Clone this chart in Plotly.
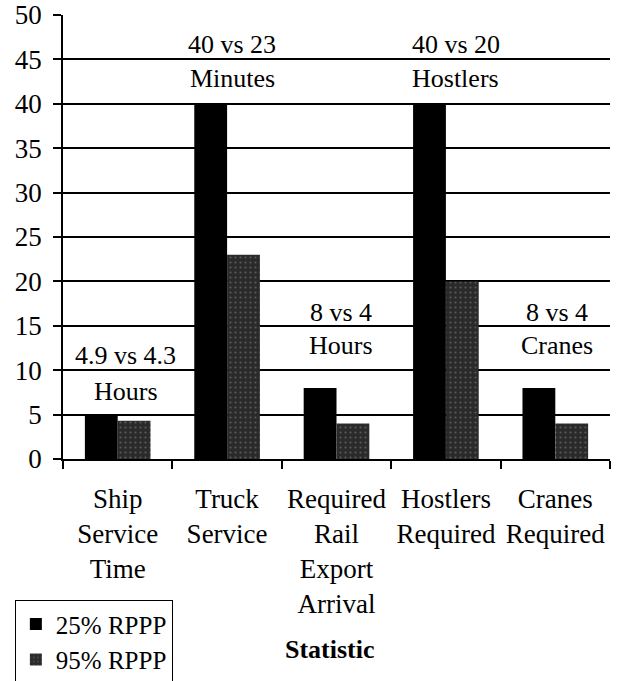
import plotly.graph_objects as go

categories = ["Ship<br>Service<br>Time", "Truck<br>Service", "Required<br>Rail<br>Export<br>Arrival",
              "Hostlers<br>Required", "Cranes<br>Required"]
rppp25 = [5, 40, 8, 40, 8]
rppp95 = [4.3, 23, 4, 20, 4]
ann_top = ["4.9 vs 4.3", "40 vs 23", "8 vs 4", "40 vs 20", "8 vs 4"]
ann_bottom = ["Hours", "Minutes", "Hours", "Hostlers", "Cranes"]
ann_top_y = [11.7, 46.7, 16.5, 46.7, 16.5]
ann_bottom_y = [7.6, 42.8, 12.8, 42.8, 12.8]
ann_xshift = [8, 5, 4, 10, 2]

FONT = "Liberation Serif"
FS = 26

fig = go.Figure()
fig.add_trace(go.Bar(x=categories, y=rppp25, name="25% RPPP",
                     marker=dict(color="#000000", line=dict(width=0))))
fig.add_trace(go.Bar(x=categories, y=rppp95, name="95% RPPP",
                     marker=dict(color="#2a2a2a", line=dict(width=0),
                                 pattern=dict(shape=".", fgcolor="#8a8a8a", size=5, solidity=0.15))))

for i, c in enumerate(categories):
    fig.add_annotation(x=c, y=ann_top_y[i], xref="x", yref="y", text=ann_top[i],
                       showarrow=False, xshift=ann_xshift[i],
                       font=dict(family=FONT, size=FS, color="black"))
    fig.add_annotation(x=c, y=ann_bottom_y[i], xref="x", yref="y", text=ann_bottom[i],
                       showarrow=False, xshift=ann_xshift[i],
                       font=dict(family=FONT, size=FS, color="black"))

fig.add_annotation(x=0.488, y=-0.43, xref="paper", yref="paper", text="<b>Statistic</b>",
                   xanchor="center", yanchor="middle",
                   showarrow=False, font=dict(family=FONT, size=FS, color="black"))

fig.update_layout(
    width=622, height=681,
    margin=dict(l=63, r=12, t=15, b=222, autoexpand=False),
    paper_bgcolor="white", plot_bgcolor="white",
    barmode="group", bargap=0.4, bargroupgap=0,
    font=dict(family=FONT, size=FS, color="black"),
    showlegend=True,
    legend=dict(x=-0.088, y=-0.318, xanchor="left", yanchor="top",
                bordercolor="black", borderwidth=1, bgcolor="white",
                font=dict(family=FONT, size=FS - 1, color="black"),
                itemwidth=30, tracegroupgap=0),
)
fig.update_yaxes(range=[0, 50], dtick=5, showgrid=True, gridcolor="black", gridwidth=1.5,
                 showline=True, linecolor="black", linewidth=1.5, automargin=False,
                 ticks="outside", ticklen=8, tickcolor="black", tickwidth=1.5,
                 ticklabelstandoff=6, ticklabeloverflow="allow",
                 zeroline=False, tickfont=dict(family=FONT, size=FS + 1))
fig.update_xaxes(showline=True, linecolor="black", linewidth=1.5, automargin=False,
                 ticks="outside", tickson="boundaries", ticklen=8, tickcolor="black", tickwidth=1.5,
                 ticklabelstandoff=15, ticklabeloverflow="allow",
                 showgrid=False, tickfont=dict(family=FONT, size=FS + 1), tickangle=0)

fig.write_html("out.html", config={"displayModeBar": False},
               post_script="document.body.style.margin='0';")
